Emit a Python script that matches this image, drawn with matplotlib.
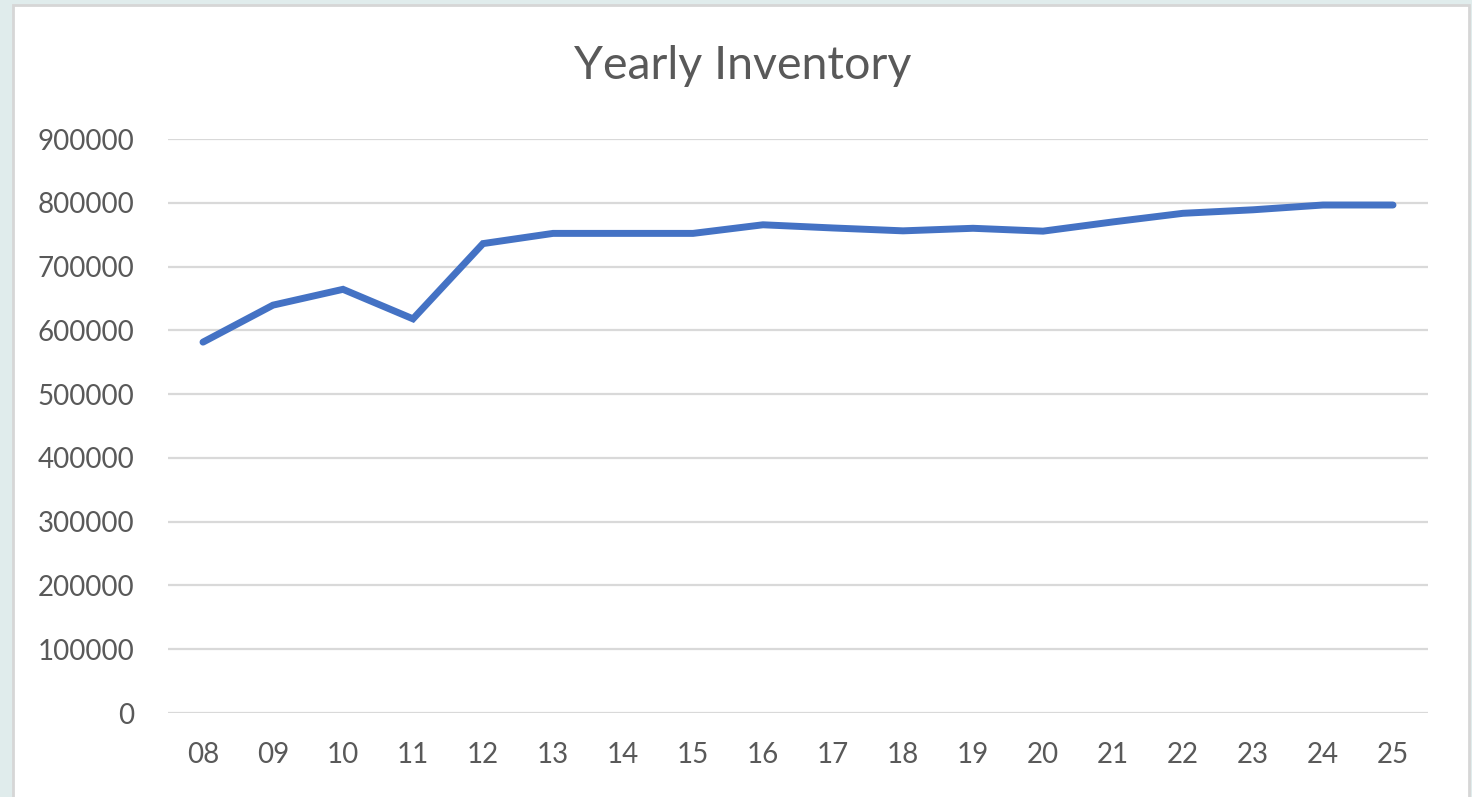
import matplotlib.pyplot as plt
from matplotlib.patches import Rectangle

# anos (rótulos do eixo x) e valores do inventário
anos = ['08', '09', '10', '11', '12', '13', '14', '15', '16',
        '17', '18', '19', '20', '21', '22', '23', '24', '25']
inventario = [581500, 639500, 664300, 618000, 736000, 752000, 752000, 752000, 765500,
              760500, 756000, 760000, 755500, 770000, 783500, 789000, 796500, 796500]
yticks = [0, 100000, 200000, 300000, 400000, 500000, 600000, 700000, 800000, 900000]

plt.rcParams['font.family'] = ['Lato', 'DejaVu Sans']

fig = plt.figure(figsize=(14.72, 7.97), dpi=100)
fig.patch.set_facecolor('#e0ecec')

# cartão branco com borda cinza
card = Rectangle((13 / 1472, -0.01), (1469 - 13) / 1472, 1 - 5 / 797 + 0.01,
                 transform=fig.transFigure, facecolor='white',
                 edgecolor='#d6d6d6', linewidth=2, zorder=-5)
fig.patches.append(card)

ax = fig.add_axes([168 / 1472, 1 - 713 / 797, (1428 - 168) / 1472, (713 - 139) / 797])
ax.set_facecolor('none')
ax.set_zorder(2)

x = list(range(len(anos)))
ax.plot(x, inventario, color='#4472c4', linewidth=5, solid_capstyle='round',
        solid_joinstyle='miter', zorder=3)

ax.set_xlim(-0.5, len(anos) - 0.5)
ax.set_ylim(0, 900000)
ax.set_xticks(x)
ax.set_xticklabels(anos)
ax.set_yticks(yticks)
ax.set_yticklabels([str(v) for v in yticks])
ax.grid(axis='y', color='#d9d9d9', linewidth=1.6)
ax.set_axisbelow(True)
for s in ax.spines.values():
    s.set_visible(False)
ax.tick_params(axis='both', length=0, colors='#595959', labelsize=20)
ax.tick_params(axis='y', pad=24)
ax.tick_params(axis='x', pad=21)

fig.text(743 / 1472, 1 - 66 / 797, 'Yearly Inventory', ha='center', va='center',
         fontsize=33.5, color='#595959', zorder=3)

fig.savefig('out.png', dpi=100, facecolor=fig.get_facecolor())
